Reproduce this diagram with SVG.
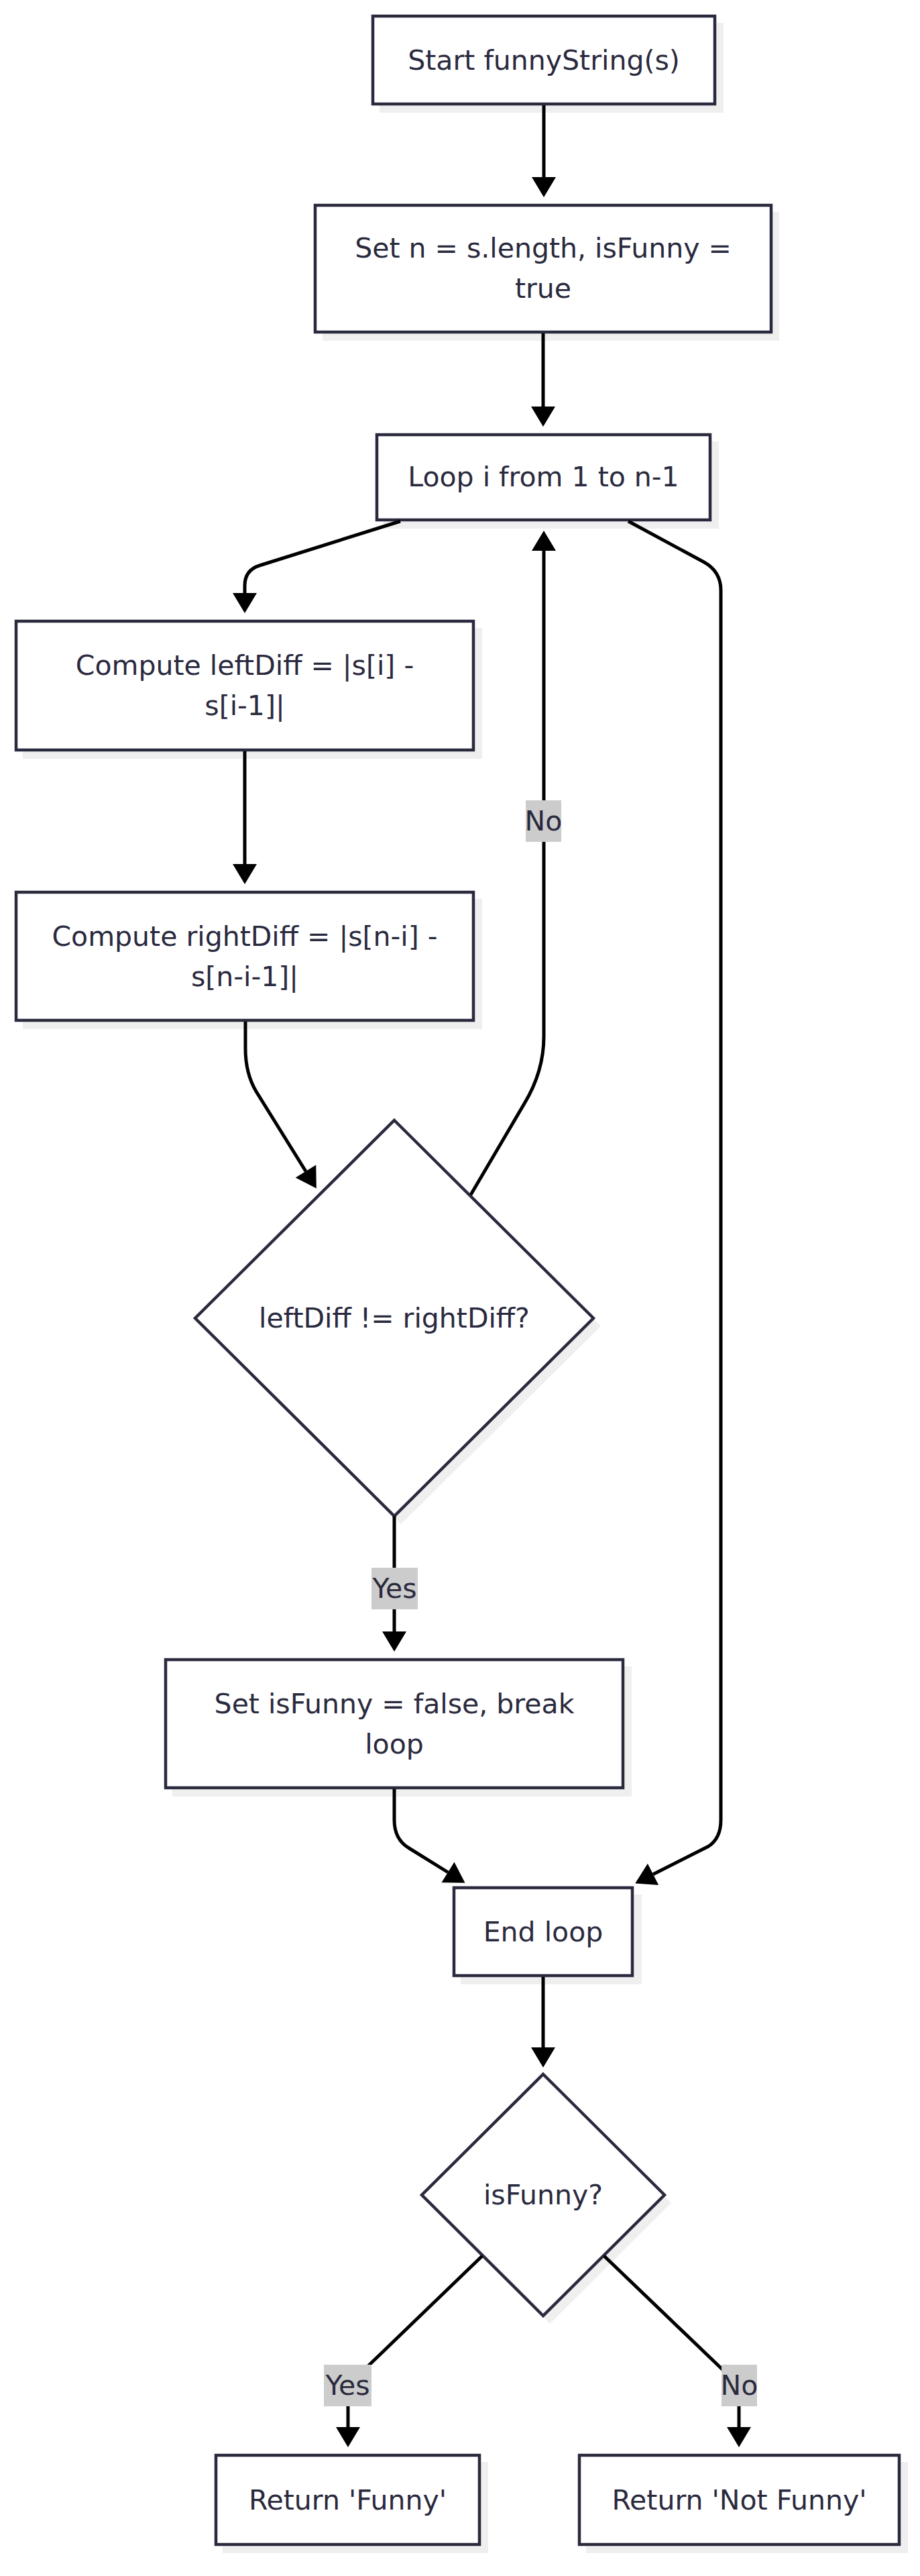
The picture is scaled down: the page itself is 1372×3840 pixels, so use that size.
<svg xmlns="http://www.w3.org/2000/svg" width="1372" height="3840" viewBox="0 0 1372 3840">
<style>
.box{fill:#ffffff;stroke:#2a2a3e;stroke-width:4.5}
.sh{fill:#efefef;stroke:none}
.t{font-family:"DejaVu Sans",sans-serif;font-size:41px;fill:#2a2a3e;text-anchor:middle}
.e{fill:none;stroke:#000000;stroke-width:5}
.lb{fill:#cccccc}
</style>
<defs>
<marker id="arr" markerUnits="userSpaceOnUse" markerWidth="31" markerHeight="37" refX="0" refY="18" orient="auto" viewBox="0 0 31 37" overflow="visible">
<path d="M0,0 L30,18 L0,36 Z" fill="#000000"/>
</marker>
</defs>
<rect width="1372" height="3840" fill="#ffffff"/>

<g id="start">
<rect class="sh" x="566" y="34" width="513" height="134"/>
<rect class="box" x="556" y="24" width="510" height="131"/>
<text class="t" x="811" y="104">Start funnyString(s)</text>
</g>
<g id="init">
<rect class="sh" x="481" y="316" width="681" height="192"/>
<rect class="box" x="470" y="306" width="680" height="189"/>
<text class="t" x="810" y="384">Set n = s.length, isFunny =</text>
<text class="t" x="810" y="444">true</text>
</g>
<g id="loop">
<rect class="sh" x="572" y="658" width="500" height="130"/>
<rect class="box" x="562" y="648" width="497" height="127"/>
<text class="t" x="810.5" y="725">Loop i from 1 to n-1</text>
</g>
<g id="leftDiff">
<rect class="sh" x="34" y="936" width="685" height="195"/>
<rect class="box" x="24" y="926" width="682" height="192"/>
<text class="t" x="365" y="1006">Compute leftDiff = |s[i] -</text>
<text class="t" x="365" y="1066">s[i-1]|</text>
</g>
<g id="rightDiff">
<rect class="sh" x="34" y="1340" width="685" height="194"/>
<rect class="box" x="24" y="1330" width="682" height="191"/>
<text class="t" x="365" y="1410">Compute rightDiff = |s[n-i] -</text>
<text class="t" x="365" y="1470">s[n-i-1]|</text>
</g>
<g id="compare">
<polygon class="sh" points="598,1682 896,1977 598,2272 300,1977"/>
<polygon class="box" points="588,1670 885,1965 588,2260 291,1965"/>
<text class="t" x="588" y="1979">leftDiff != rightDiff?</text>
</g>
<g id="setFalse">
<rect class="sh" x="257" y="2484" width="685" height="194"/>
<rect class="box" x="247" y="2474" width="682" height="191"/>
<text class="t" x="588" y="2554">Set isFunny = false, break</text>
<text class="t" x="588" y="2614">loop</text>
</g>
<g id="endLoop">
<rect class="sh" x="687" y="2824" width="270" height="134"/>
<rect class="box" x="677" y="2814" width="266" height="131"/>
<text class="t" x="810" y="2894">End loop</text>
</g>
<g id="isFunny">
<polygon class="sh" points="820,3104 1001,3284 820,3464 639,3284"/>
<polygon class="box" points="810,3092 991,3272 810,3452 629,3272"/>
<text class="t" x="810" y="3286">isFunny?</text>
</g>
<g id="retFunny">
<rect class="sh" x="332" y="3670" width="396" height="136"/>
<rect class="box" x="322" y="3660" width="393" height="133"/>
<text class="t" x="518.5" y="3741">Return 'Funny'</text>
</g>
<g id="retNotFunny">
<rect class="sh" x="874" y="3670" width="480" height="136"/>
<rect class="box" x="864" y="3660" width="477" height="133"/>
<text class="t" x="1102.5" y="3741">Return 'Not Funny'</text>
</g>

<g id="connectors">
<path class="e" d="M811,157 L811,264" marker-end="url(#arr)"/>
<path class="e" d="M810,497 L810,606" marker-end="url(#arr)"/>
<path class="e" d="M597,777 L387,843 Q365,850 365,873 L365,884" marker-end="url(#arr)"/>
<path class="e" d="M365,1120 L365,1288" marker-end="url(#arr)"/>
<path class="e" d="M366,1523 L366,1563 Q366,1600 382,1627 L456,1746" marker-end="url(#arr)"/>
<path class="e" d="M702,1781 L782,1645 Q811,1597 811,1545 L811,821" marker-end="url(#arr)"/>
<path class="e" d="M937,777 L1050,838 Q1075,852 1075,880 L1075,2713 Q1075,2740 1057,2752 L974,2794" marker-end="url(#arr)"/>
<path class="e" d="M588,2260 L588,2432" marker-end="url(#arr)"/>
<path class="e" d="M588,2667 L588,2713 Q588,2742 610,2755 L668,2791" marker-end="url(#arr)"/>
<path class="e" d="M810,2947 L810,3052" marker-end="url(#arr)"/>
<path class="e" d="M719,3363 L524,3551 Q519,3556 519,3565 L519,3618" marker-end="url(#arr)"/>
<path class="e" d="M901,3363 L1097,3551 Q1102,3556 1102,3565 L1102,3618" marker-end="url(#arr)"/>
<g id="label-no-loop"><rect class="lb" x="784" y="1193" width="53" height="62"/><text class="t" x="810.5" y="1238">No</text></g>
<g id="label-yes-1"><rect class="lb" x="554" y="2337" width="69" height="62"/><text class="t" x="588.5" y="2382">Yes</text></g>
<g id="label-yes-2"><rect class="lb" x="483" y="3525" width="71" height="62"/><text class="t" x="518.5" y="3570">Yes</text></g>
<g id="label-no-2"><rect class="lb" x="1076" y="3525" width="53" height="62"/><text class="t" x="1102.5" y="3570">No</text></g>
</g>
</svg>
